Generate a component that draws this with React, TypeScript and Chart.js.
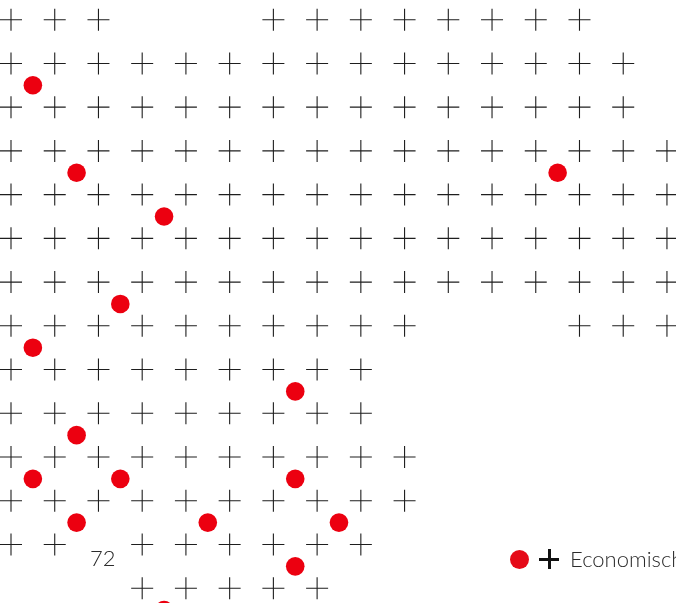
import React, { useEffect, useRef } from "react";
import { Chart, registerables } from "chart.js";

Chart.register(...registerables);

// Grid of "+" markers: for each row, the columns that hold a marker
const plusRows: number[][] = [
  [0, 1, 2, 6, 7, 8, 9, 10, 11, 12, 13],
  [0, 1, 2, 3, 4, 5, 6, 7, 8, 9, 10, 11, 12, 13, 14],
  [0, 1, 2, 3, 4, 5, 6, 7, 8, 9, 10, 11, 12, 13, 14],
  [0, 1, 2, 3, 4, 5, 6, 7, 8, 9, 10, 11, 12, 13, 14, 15],
  [0, 1, 2, 3, 4, 5, 6, 7, 8, 9, 10, 11, 12, 13, 14, 15],
  [0, 1, 2, 3, 4, 5, 6, 7, 8, 9, 10, 11, 12, 13, 14, 15],
  [0, 1, 2, 3, 4, 5, 6, 7, 8, 9, 10, 11, 12, 13, 14, 15],
  [0, 1, 2, 3, 4, 5, 6, 7, 8, 9, 13, 14, 15],
  [0, 1, 2, 3, 4, 5, 6, 7, 8],
  [0, 1, 2, 3, 4, 5, 6, 7, 8],
  [0, 1, 2, 3, 4, 5, 6, 7, 8, 9],
  [0, 1, 2, 3, 4, 5, 6, 7, 8, 9],
  [0, 1, 3, 4, 5, 6, 7, 8],
  [3, 4, 5, 6, 7],
];

// Red dots (half-grid positions)
const dotCols: number[] = [0.5, 1.5, 3.5, 12.5, 2.5, 0.5, 6.5, 1.5, 0.5, 2.5, 6.5, 1.5, 4.5, 7.5, 6.5, 3.5];
const dotRows: number[] = [1.5, 3.5, 4.5, 3.5, 6.5, 7.5, 8.5, 9.5, 10.5, 10.5, 10.5, 11.5, 11.5, 11.5, 12.5, 13.5];

const valueLabel = "72";
const legendLabel = "Economische krimp";

const W = 676;
const H = 603;
const FONT = "Lato, 'Open Sans', sans-serif";

export default function App() {
  const ref = useRef<HTMLCanvasElement | null>(null);

  useEffect(() => {
    if (!ref.current) return;
    const plusPoints: { x: number; y: number }[] = [];
    plusRows.forEach((cols, r) => cols.forEach((c) => plusPoints.push({ x: c, y: r })));
    const dotPoints = dotCols.map((c, i) => ({ x: c, y: dotRows[i] }));

    const step = 43.73;
    const chart = new Chart(ref.current, {
      type: "scatter",
      data: {
        datasets: [
          {
            label: "dots",
            data: dotPoints,
            pointStyle: "circle",
            pointRadius: 9.3,
            backgroundColor: "#ec0010",
            borderWidth: 0,
            clip: false,
          },
          {
            label: "plus",
            data: plusPoints,
            pointStyle: "cross",
            pointRadius: 11,
            borderColor: "#1e1e1e",
            borderWidth: 1.1,
            backgroundColor: "#1e1e1e",
            clip: false,
          },
        ],
      },
      options: {
        animation: false,
        responsive: false,
        events: [],
        layout: { padding: 0, autoPadding: false },
        plugins: { legend: { display: false }, tooltip: { enabled: false } },
        scales: {
          x: { type: "linear", display: false, min: -11 / step, max: (W - 11) / step },
          y: { type: "linear", display: false, reverse: true, min: -19.7 / step, max: (H - 19.7) / step },
        },
      },
    });
    return () => chart.destroy();
  }, []);

  return (
    <div style={{ position: "absolute", left: 0, top: 0, width: W, height: H, overflow: "hidden", background: "#fff" }}>
      <canvas ref={ref} width={W} height={H} style={{ position: "absolute", left: 0, top: 0, width: W, height: H }} />
      <div
        style={{
          position: "absolute",
          left: 90,
          top: 547,
          fontFamily: FONT,
          fontSize: 22,
          lineHeight: "22px",
          color: "#2b2b2b",
          fontWeight: 300,
          whiteSpace: "nowrap",
        }}
      >
        {valueLabel}
      </div>
      <div
        style={{
          position: "absolute",
          left: 510,
          top: 547,
          height: 24,
          display: "flex",
          alignItems: "center",
          whiteSpace: "nowrap",
        }}
      >
        <span style={{ display: "inline-block", width: 19, height: 19, borderRadius: "50%", background: "#e50a18" }} />
        <span style={{ position: "relative", display: "inline-block", width: 20, height: 20, marginLeft: 10 }}>
          <span style={{ position: "absolute", left: 0, top: 8.5, width: 20, height: 3, background: "#111" }} />
          <span style={{ position: "absolute", left: 8.5, top: 0, width: 3, height: 20, background: "#111" }} />
        </span>
        <span
          style={{
            marginLeft: 11,
            fontFamily: FONT,
            fontSize: 22,
            lineHeight: "22px",
            color: "#2b2b2b",
            fontWeight: 300,
          }}
        >
          {legendLabel}
        </span>
      </div>
    </div>
  );
}
